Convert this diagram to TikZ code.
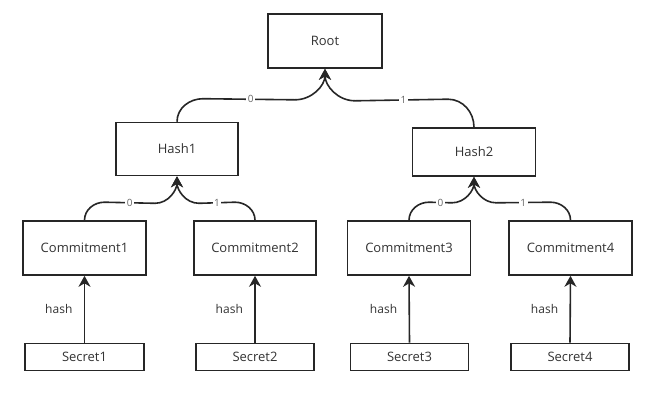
\documentclass[tikz,border=0pt]{standalone}
\usepackage{fontspec}
\setmainfont{Open Sans}
\usetikzlibrary{arrows.meta,calc}
\definecolor{ln}{HTML}{262626}
\definecolor{tx}{HTML}{333333}
\definecolor{lb}{HTML}{666666}
\tikzset{
  box/.style={draw=ln,line width=1.6pt,fill=white,minimum width=#1,inner sep=0pt,text=tx,font=\fontsize{13}{15}\selectfont},
  edge/.style={draw=ln,line width=1.6pt,-{Stealth[length=11pt,width=12pt,inset=3.5pt]}},
  lbl/.style={fill=white,text=lb,inner sep=1.5pt,font=\fontsize{10}{12}\selectfont},
  hashlbl/.style={text=tx,font=\fontsize{12}{14}\selectfont,anchor=east}
}
\begin{document}
\begin{tikzpicture}[x=1pt,y=1pt]
\path[use as bounding box,fill=white] (0,0) rectangle (663,-413);
% nodes
\node[box=114pt,minimum height=54pt] (root) at (325,-41) {Root};
\node[box=122pt,minimum height=53pt] (h1) at (177,-149) {Hash1};
\node[box=123pt,minimum height=48pt] (h2) at (474,-152) {Hash2};
\node[box=123pt,minimum height=54pt] (c1) at (84.5,-248) {Commitment1};
\node[box=122pt,minimum height=54pt] (c2) at (255,-248) {Commitment2};
\node[box=123pt,minimum height=54pt] (c3) at (409,-248) {Commitment3};
\node[box=123pt,minimum height=54pt] (c4) at (570.5,-248) {Commitment4};
\node[box=119pt,minimum height=27pt] (s1) at (84.5,-357) {Secret1};
\node[box=118pt,minimum height=27pt] (s2) at (255,-357) {Secret2};
\node[box=118pt,minimum height=27pt] (s3) at (409.5,-357) {Secret3};
\node[box=118pt,minimum height=27pt] (s4) at (570,-357) {Secret4};
% secret -> commitment
\foreach \i in {1,2,3,4}{
  \draw[edge] (s\i.north) -- node[hashlbl,xshift=-8pt]{hash} (c\i.south);
}
% root level
\draw[edge] (h1.north) to[out=90,in=180] ($(h1.north)+(26,23)$)
  -- node[lbl,pos=0.52]{0} ($(root.south)+(-30,-31)$) to[out=0,in=-90] (root.south);
\draw[edge] (h2.north) to[out=90,in=0] ($(h2.north)+(-26,28)$)
  -- node[lbl,pos=0.48]{1} ($(root.south)+(30,-32)$) to[out=180,in=-90] (root.south);
% hash1 level
\draw[edge] (c1.north) to[out=90,in=180] ($(c1.north)+(20,18)$)
  -- node[lbl]{0} ($(h1.south)+(-22,-27)$) to[out=0,in=-90] (h1.south);
\draw[edge] (c2.north) to[out=90,in=0] ($(c2.north)+(-20,18)$)
  -- node[lbl]{1} ($(h1.south)+(22,-27)$) to[out=180,in=-90] (h1.south);
% hash2 level
\draw[edge] (c3.north) to[out=90,in=180] ($(c3.north)+(20,18)$)
  -- node[lbl]{0} ($(h2.south)+(-22,-26)$) to[out=0,in=-90] (h2.south);
\draw[edge] (c4.north) to[out=90,in=0] ($(c4.north)+(-20,18)$)
  -- node[lbl]{1} ($(h2.south)+(22,-26)$) to[out=180,in=-90] (h2.south);
\end{tikzpicture}
\end{document}
